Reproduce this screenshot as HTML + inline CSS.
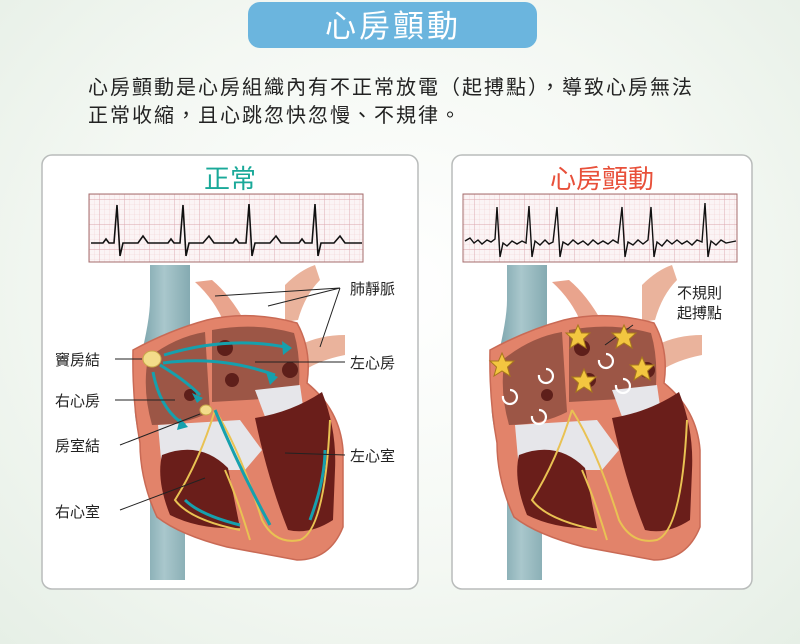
<!DOCTYPE html>
<html><head><meta charset="utf-8"><style>
body{margin:0;width:800px;height:644px;overflow:hidden;background:radial-gradient(ellipse at 50% 45%,#ffffff 0%,#f4f8f3 55%,#e6efe6 100%);font-family:"Liberation Sans","Noto Sans CJK TC",sans-serif;}
</style></head><body>
<svg width="800" height="644" viewBox="0 0 800 644" xmlns="http://www.w3.org/2000/svg" style="position:absolute;left:0;top:0;font-family:'Liberation Sans','Noto Sans CJK TC',sans-serif">
<defs>
<pattern id="grid" width="5" height="5" patternUnits="userSpaceOnUse"><path d="M5 0V5H0" fill="none" stroke="#f0cfd3" stroke-width="0.6"/></pattern>
<pattern id="grid2" width="25" height="25" patternUnits="userSpaceOnUse"><path d="M25 0V25H0" fill="none" stroke="#dba6ad" stroke-width="0.9"/></pattern>
<linearGradient id="vein" x1="0" x2="1"><stop offset="0" stop-color="#6f9aa3"/><stop offset="0.5" stop-color="#a9c7cc"/><stop offset="1" stop-color="#7fa6ad"/></linearGradient>
<g id="heart">
 <path d="M150 265 L190 265 L190 330 Q200 360 185 400 L185 580 L150 580 L150 460 Q125 420 140 360 Q150 320 150 300Z" fill="url(#vein)"/>
 <path d="M195 282 Q215 300 225 325 L245 322 Q230 295 212 280Z" fill="#e9a48d"/>
 <path d="M285 285 Q300 270 315 265 L320 280 Q305 295 298 320 L285 322Z" fill="#eab39c"/>
 <path d="M300 345 Q320 335 345 335 L345 355 Q320 360 305 370Z" fill="#eab39c"/>
 <path d="M207 320 Q250 310 297 323 Q312 350 307 383 Q340 410 343 450 L343 527 Q330 560 297 560 L227 547 Q180 535 157 517 Q140 480 140 443 Q132 400 133 350 Q170 330 207 320Z" fill="#e2836a" stroke="#c96a55" stroke-width="1.5"/>
 <path d="M148 358 Q175 337 205 332 L210 412 Q185 425 152 425 Q142 390 148 358Z" fill="#9c5646"/>
 <path d="M212 330 Q255 322 294 333 Q302 360 298 397 L212 402Z" fill="#9c5646"/>
 <path d="M158 425 L240 420 L262 450 L245 470 L162 470Z" fill="#e6e6ea"/>
 <path d="M255 390 L300 385 L305 420 L270 430Z" fill="#e6e6ea"/>
 <path d="M162 455 Q200 440 228 468 L240 528 Q200 530 170 515 Q156 480 162 455Z" fill="#6a1e1a"/>
 <path d="M255 418 Q292 412 322 392 Q337 430 335 470 L333 520 Q310 535 288 530 Q268 480 255 418Z" fill="#6a1e1a"/>
 <path d="M225 470 Q238 500 250 540" stroke="#e9c253" stroke-width="2" fill="none"/>
 <path d="M215 410 Q240 450 262 520 Q275 545 300 540 Q325 530 330 420" stroke="#e9c253" stroke-width="2" fill="none"/>
 <path d="M215 410 Q200 460 175 500 Q190 520 240 530" stroke="#e9c253" stroke-width="2" fill="none"/>
 <circle cx="225" cy="348" r="8" fill="#5e1f1a"/><circle cx="190" cy="395" r="6" fill="#5e1f1a"/>
 <circle cx="290" cy="370" r="8" fill="#5e1f1a"/><circle cx="232" cy="380" r="7" fill="#5e1f1a"/>
</g>
</defs>

<rect x="248" y="2" width="289" height="46" rx="12" fill="#6bb5de"/>
<text x="393" y="37" font-size="31" letter-spacing="3" fill="#fff" text-anchor="middle">心房顫動</text>
<text x="88" y="94" font-size="20" letter-spacing="2" fill="#222">心房顫動是心房組織內有不正常放電（起搏點），導致心房無法</text>
<text x="88" y="122" font-size="20" letter-spacing="2" fill="#222">正常收縮，且心跳忽快忽慢、不規律。</text>

<rect x="42" y="155" width="376" height="434" rx="10" fill="#fff" stroke="#b9bcbb" stroke-width="1.5"/>
<rect x="452" y="155" width="300" height="434" rx="10" fill="#fff" stroke="#b9bcbb" stroke-width="1.5"/>

<text x="230" y="188" font-size="26" fill="#1aa999" text-anchor="middle">正常</text>
<text x="602" y="188" font-size="26" fill="#e8503a" text-anchor="middle">心房顫動</text>

<g><rect x="89" y="194" width="274" height="68" fill="#fbf4f5"/><rect x="89" y="194" width="274" height="68" fill="url(#grid)"/><rect x="89" y="194" width="274" height="68" fill="url(#grid2)" stroke="#a46c6c"/>
<polyline fill="none" stroke="#111" stroke-width="1.6" points="91,243 103,243 106,239 109,243 114,243 117,205 120,256 123,243 138,243 143,236 148,243 168,243 171,239 174,243 180,243 183,205 186,256 189,243 203,243 209,236 214,243 233,243 236,239 239,243 246,243 249,204 252,256 255,243 270,243 276,236 281,243 299,243 302,239 305,243 312,243 315,204 318,256 321,243 334,243 340,236 345,243 362,243"/></g>

<g><rect x="463" y="194" width="274" height="68" fill="#fbf4f5"/><rect x="463" y="194" width="274" height="68" fill="url(#grid)"/><rect x="463" y="194" width="274" height="68" fill="url(#grid2)" stroke="#a46c6c"/>
<polyline fill="none" stroke="#111" stroke-width="1.4" points="465,241 470,238 474,243 478,240 482,244 487,240 491,242 495,239 497,207 500,257 503,243 507,246 512,241 517,244 522,241 526,243 529,206 532,257 535,241 540,245 545,240 549,244 553,242 557,207 560,257 563,242 568,245 573,240 578,244 583,241 588,245 593,240 598,244 603,241 608,244 613,240 618,243 622,207 625,257 628,242 633,245 638,240 643,244 648,240 651,207 654,257 657,242 662,246 667,240 672,244 677,240 682,244 687,241 692,245 697,240 702,242 705,203 708,257 711,241 716,245 721,240 726,243 736,241"/></g>

<use href="#heart"/>
<use href="#heart" transform="translate(357,0)"/>

<ellipse cx="152" cy="359" rx="9" ry="8" fill="#f3dc8a" stroke="#c9a94a"/>
<ellipse cx="206" cy="410" rx="6" ry="5" fill="#f3dc8a" stroke="#c9a94a"/>
<g stroke="#16a0ad" stroke-width="3" fill="none">
<path d="M164 355 Q230 335 290 348"/><path d="M163 363 Q220 355 275 375"/><path d="M160 365 Q185 380 200 395"/><path d="M153 372 Q160 410 185 425"/>
<path d="M215 410 Q240 470 270 525"/><path d="M240 525 Q200 515 185 500"/><path d="M310 520 Q325 480 325 450"/>
</g>
<g fill="#16a0ad"><path d="M292 348 L282 341 L283 355Z"/><path d="M278 377 L266 372 L270 385Z"/><path d="M203 398 L192 393 L197 403Z"/><path d="M188 427 L180 418 L177 430Z"/></g>
<g stroke="#222" stroke-width="1" fill="none">
<path d="M115 359 H142"/><path d="M115 400 H175"/><path d="M120 445 L200 414"/><path d="M120 510 L205 478"/>
<path d="M215 296 L340 288 M268 306 L340 288 M340 288 L320 347"/><path d="M255 362 L345 362"/><path d="M285 453 L345 455"/>
<path d="M633 325 L605 345"/>
</g>
<g font-size="15" fill="#222">
<text x="55" y="365">竇房結</text><text x="55" y="406">右心房</text><text x="55" y="451">房室結</text><text x="55" y="517">右心室</text>
<text x="350" y="294">肺靜脈</text><text x="350" y="368">左心房</text><text x="350" y="461">左心室</text>
<text x="677" y="298">不規則</text><text x="677" y="318">起搏點</text>
</g>
<g fill="#f3c640" stroke="#a8781d" stroke-width="1">
<path d="M0-12 L3.5-4 L12-4 L5.5 2 L8 11 L0 6 L-8 11 L-5.5 2 L-12-4 L-3.5-4Z" transform="translate(502,365)"/>
<path d="M0-12 L3.5-4 L12-4 L5.5 2 L8 11 L0 6 L-8 11 L-5.5 2 L-12-4 L-3.5-4Z" transform="translate(578,337)"/>
<path d="M0-12 L3.5-4 L12-4 L5.5 2 L8 11 L0 6 L-8 11 L-5.5 2 L-12-4 L-3.5-4Z" transform="translate(624,337)"/>
<path d="M0-12 L3.5-4 L12-4 L5.5 2 L8 11 L0 6 L-8 11 L-5.5 2 L-12-4 L-3.5-4Z" transform="translate(584,381)"/>
<path d="M0-12 L3.5-4 L12-4 L5.5 2 L8 11 L0 6 L-8 11 L-5.5 2 L-12-4 L-3.5-4Z" transform="translate(642,369)"/>
</g>
<g stroke="#fff" stroke-width="2.2" fill="none">
<path d="M539 375 a7 7 0 1 0 7 -6"/><path d="M503 396 a7 7 0 1 0 7 -6"/><path d="M532 416 a7 7 0 1 0 7 -6"/><path d="M599 360 a7 7 0 1 0 7 -6"/><path d="M616 385 a7 7 0 1 0 7 -6"/>
</g>
</svg>
</body></html>
